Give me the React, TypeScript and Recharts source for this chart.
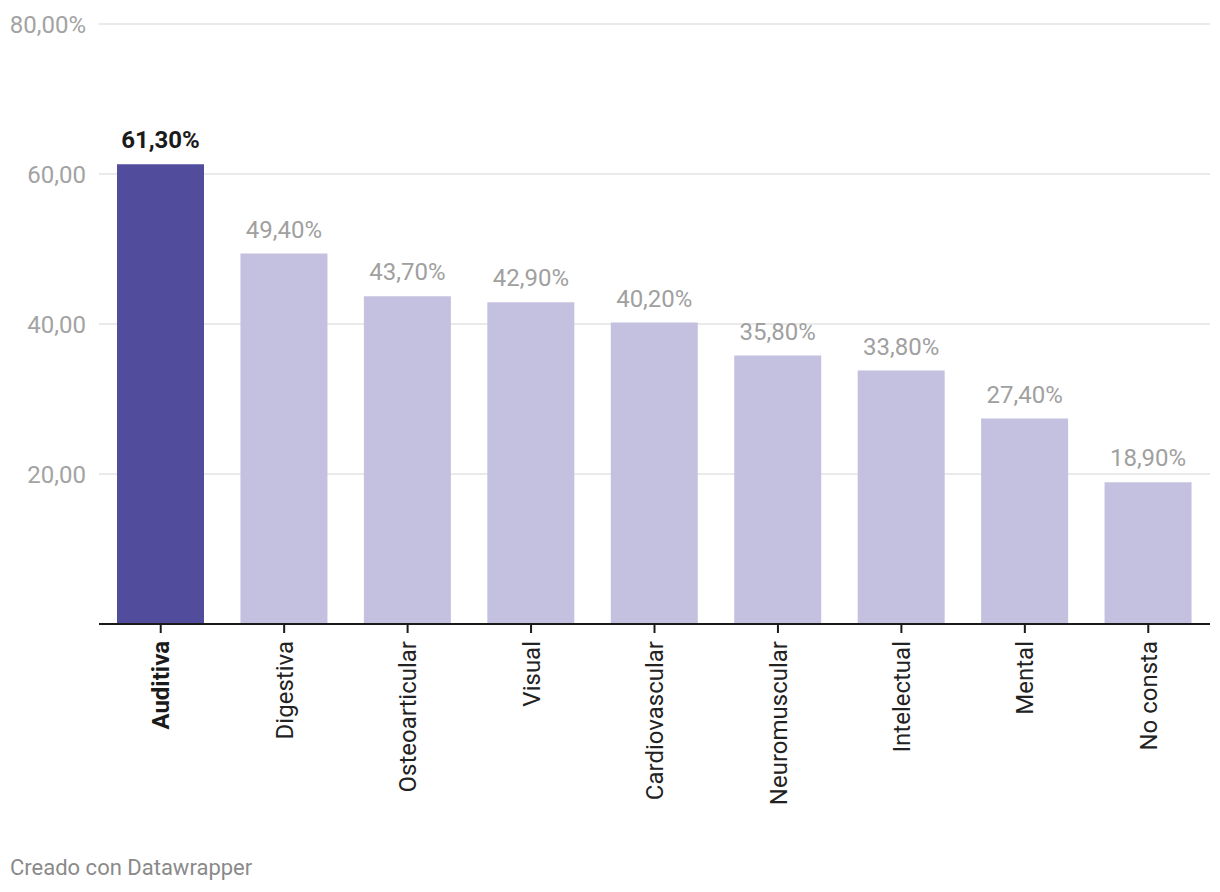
import React from "react";
import { BarChart, Bar, XAxis, YAxis, CartesianGrid, Cell, LabelList } from "recharts";

const categories = [
  "Auditiva",
  "Digestiva",
  "Osteoarticular",
  "Visual",
  "Cardiovascular",
  "Neuromuscular",
  "Intelectual",
  "Mental",
  "No consta",
];
const values = [61.3, 49.4, 43.7, 42.9, 40.2, 35.8, 33.8, 27.4, 18.9];
const yTicks = [0, 20, 40, 60, 80];
const highlight = "Auditiva";

const data = categories.map((name, i) => ({ name, value: values[i] }));

const FONT = "Roboto, 'Noto Sans', sans-serif";
const fmt = (v: number) => v.toFixed(2).replace(".", ",");

const YTick = (props: any) => {
  const { y, payload } = props;
  if (payload.value === 0) return null;
  const label = payload.value === 80 ? fmt(payload.value) + "%" : fmt(payload.value);
  return (
    <text x={86} y={y} dy="0.36em" textAnchor="end" fill="#a3a3a3" fontSize={24} fontFamily={FONT}>
      {label}
    </text>
  );
};

const XTick = (props: any) => {
  const { x, payload } = props;
  const bold = payload.value === highlight;
  return (
    <text
      transform={`translate(${x},641) rotate(-90)`}
      textAnchor="end"
      dy="0.36em"
      fill={bold ? "#1a1a1a" : "#222"}
      fontWeight={bold ? 700 : 400}
      fontSize={24}
      fontFamily={FONT}
    >
      {payload.value}
    </text>
  );
};

const ValueLabel = (props: any) => {
  const { x, y, width, value, index } = props;
  const bold = categories[index] === highlight;
  return (
    <text
      x={x + width / 2}
      y={y - 16}
      textAnchor="middle"
      fill={bold ? "#1a1a1a" : "#a0a0a0"}
      fontWeight={bold ? 700 : 400}
      fontSize={24}
      fontFamily={FONT}
    >
      {fmt(value)}%
    </text>
  );
};

export default function App() {
  return (
    <div style={{ position: "absolute", left: 0, top: 0, width: 1220, height: 892, background: "#fff", fontFamily: FONT }}>
      <BarChart
        width={1220}
        height={892}
        data={data}
        margin={{ top: 24, right: 10, bottom: 168, left: 0 }}
        barSize={87}
      >
        <CartesianGrid vertical={false} stroke="#e3e3e3" strokeWidth={1.5} horizontalValues={[20, 40, 60, 80]} />
        <YAxis
          width={99}
          domain={[0, 80]}
          ticks={yTicks}
          axisLine={false}
          tickLine={false}
          tick={<YTick />}
        />
        <XAxis
          dataKey="name"
          height={100}
          interval={0}
          axisLine={{ stroke: "#1a1a1a", strokeWidth: 2 }}
          tickLine={{ stroke: "#1a1a1a", strokeWidth: 2 }}
          tickSize={9}
          tick={<XTick />}
        />
        <Bar dataKey="value" isAnimationActive={false}>
          {data.map((d) => (
            <Cell key={d.name} fill={d.name === highlight ? "#524c9d" : "#c4c0e0"} />
          ))}
          <LabelList dataKey="value" content={<ValueLabel />} />
        </Bar>
      </BarChart>
      <div style={{ position: "absolute", left: 10, top: 855, fontSize: 22, lineHeight: "26px", color: "#8a8a8a", fontFamily: FONT }}>
        Creado con Datawrapper
      </div>
    </div>
  );
}
